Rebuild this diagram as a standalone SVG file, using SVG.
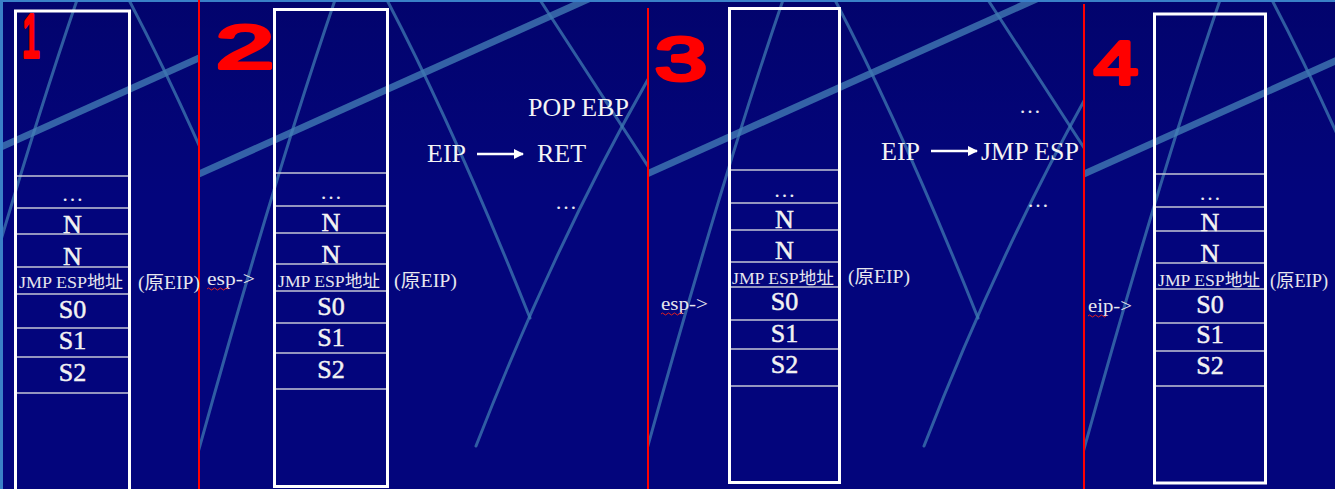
<svg xmlns="http://www.w3.org/2000/svg" xmlns:xlink="http://www.w3.org/1999/xlink" width="1335" height="489" viewBox="0 0 1335 489">
<defs>
<style>
.bg{fill:#03057c}
.ln{fill:none;stroke:#3f7ab2;stroke-width:3;stroke-linecap:round;opacity:0.75}
.band{fill:none;stroke:#4682b8;stroke-width:7;opacity:0.75}
.box{fill:none;stroke:#ffffff;stroke-width:3}
.row{stroke:#c4c6d6;stroke-width:1.6}
.sep{stroke:#ff0000;stroke-width:2}
.cell{font-family:"Liberation Serif","Noto Sans CJK SC",serif;fill:#f2f2f2;stroke:#f2f2f2;stroke-width:0.5;font-size:26px;text-anchor:middle}
.dots{font-family:"Liberation Serif",serif;fill:#e8e8f0;font-size:22px;text-anchor:middle}
.addr{font-family:"Liberation Serif","Noto Sans CJK SC",serif;fill:#e6e6ee;font-size:17px;text-anchor:middle}
.side{font-family:"Liberation Serif","Noto Sans CJK SC",serif;fill:#e6e6ee;font-size:18px}
.big{font-family:"Liberation Serif",serif;fill:#f4f4f4;font-size:26px}
.num{font-family:"Liberation Sans",sans-serif;fill:#ff0000;stroke:#ff0000;stroke-width:4;stroke-linejoin:round;font-size:62px}
.arrow{stroke:#ffffff;stroke-width:2.5;fill:none}
.squig{fill:none;stroke:#e02020;stroke-width:1}
</style>
<linearGradient id="shade" x1="0" y1="0" x2="0" y2="1">
<stop offset="0" stop-color="#000050" stop-opacity="0.35"/>
<stop offset="0.4" stop-color="#000050" stop-opacity="0"/>
</linearGradient>
<g id="slidebg">
<path class="ln" d="M135,0 Q70,190 -12,489"/>
<path class="band" d="M-70,205 L395,-4"/>
<path class="ln" d="M187,0 Q255,130 330,318"/>
<path class="ln" d="M340,0 L470,200"/>
<path class="ln" d="M462,55 Q360,230 276,446"/>
</g>
<clipPath id="c1"><rect x="0" y="0" width="199" height="489"/></clipPath>
<clipPath id="c2"><rect x="200" y="0" width="448" height="489"/></clipPath>
<clipPath id="c3"><rect x="648" y="0" width="436" height="489"/></clipPath>
<clipPath id="c4"><rect x="1085" y="0" width="250" height="489"/></clipPath>
<marker id="ah" markerWidth="10" markerHeight="10" refX="9" refY="5" orient="auto" markerUnits="userSpaceOnUse">
<path d="M0,0 L10,5 L0,10 Z" fill="#ffffff"/>
</marker>
</defs>

<g id="background">
<rect class="bg" x="0" y="0" width="1335" height="489"/>
<rect x="0" y="0" width="1335" height="489" fill="url(#shade)"/>
<g clip-path="url(#c1)"><use xlink:href="#slidebg" transform="translate(-58,0)"/></g>
<g clip-path="url(#c2)"><use xlink:href="#slidebg" transform="translate(200,0)"/></g>
<g clip-path="url(#c3)"><use xlink:href="#slidebg" transform="translate(648,0)"/></g>
<g clip-path="url(#c4)"><use xlink:href="#slidebg" transform="translate(1085,0)"/></g>
<rect x="0" y="0" width="1335" height="2" fill="#3a80c8"/>
<rect x="0" y="0" width="3" height="489" fill="#3a80c8"/>
<line class="sep" x1="199" y1="0" x2="199" y2="489"/>
<line class="sep" x1="648" y1="8" x2="648" y2="489"/>
<line class="sep" x1="1084" y1="4" x2="1084" y2="489"/>
</g>

<g id="stack1">
<rect class="box" x="15.5" y="11" width="114" height="490"/>
<line class="row" x1="17" y1="176" x2="128" y2="176"/>
<line class="row" x1="17" y1="208" x2="128" y2="208"/>
<line class="row" x1="17" y1="234" x2="128" y2="234"/>
<line class="row" x1="17" y1="267" x2="128" y2="267"/>
<line class="row" x1="17" y1="294" x2="128" y2="294"/>
<line class="row" x1="17" y1="328" x2="128" y2="328"/>
<line class="row" x1="17" y1="357" x2="128" y2="357"/>
<line class="row" x1="17" y1="393" x2="128" y2="393"/>
<text class="dots" x="72.5" y="201">…</text>
<text class="cell" x="72.5" y="233">N</text>
<text class="cell" x="72.5" y="265">N</text>
<text class="addr" x="71" y="288" textLength="104" lengthAdjust="spacingAndGlyphs">JMP ESP地址</text>
<text class="cell" x="72.5" y="318">S0</text>
<text class="cell" x="72.5" y="349">S1</text>
<text class="cell" x="72.5" y="381">S2</text>
<text class="side" x="138" y="289" textLength="62" lengthAdjust="spacingAndGlyphs">(原EIP)</text>
</g>

<g id="stack2">
<rect class="box" x="274.5" y="9.5" width="113" height="477"/>
<line class="row" x1="276" y1="173" x2="386" y2="173"/>
<line class="row" x1="276" y1="206" x2="386" y2="206"/>
<line class="row" x1="276" y1="233" x2="386" y2="233"/>
<line class="row" x1="276" y1="264" x2="386" y2="264"/>
<line class="row" x1="276" y1="291" x2="386" y2="291"/>
<line class="row" x1="276" y1="323" x2="386" y2="323"/>
<line class="row" x1="276" y1="353" x2="386" y2="353"/>
<line class="row" x1="276" y1="389" x2="386" y2="389"/>
<text class="dots" x="331" y="199">…</text>
<text class="cell" x="331" y="231">N</text>
<text class="cell" x="331" y="263">N</text>
<text class="addr" x="329" y="287" textLength="102" lengthAdjust="spacingAndGlyphs">JMP ESP地址</text>
<text class="cell" x="331" y="315">S0</text>
<text class="cell" x="331" y="346">S1</text>
<text class="cell" x="331" y="378">S2</text>
<text class="side" x="207" y="285" textLength="48" lengthAdjust="spacingAndGlyphs">esp-&gt;</text>
<path class="squig" d="M207,289 q1.5,-2 3,0 t3,0 t3,0 t3,0 t3,0 t3,0 t3,0"/>
<text class="side" x="394" y="287" textLength="63" lengthAdjust="spacingAndGlyphs">(原EIP)</text>
</g>

<g id="code2">
<text class="big" x="528" y="116">POP EBP</text>
<text class="big" x="427" y="162">EIP</text>
<text class="big" x="537" y="162">RET</text>
<text class="dots" x="566" y="209">…</text>
</g>

<g id="stack3">
<rect class="box" x="729.5" y="8.5" width="110" height="474"/>
<line class="row" x1="731" y1="170" x2="838" y2="170"/>
<line class="row" x1="731" y1="203" x2="838" y2="203"/>
<line class="row" x1="731" y1="230" x2="838" y2="230"/>
<line class="row" x1="731" y1="262" x2="838" y2="262"/>
<line class="row" x1="731" y1="287" x2="838" y2="287"/>
<line class="row" x1="731" y1="320" x2="838" y2="320"/>
<line class="row" x1="731" y1="349" x2="838" y2="349"/>
<line class="row" x1="731" y1="386" x2="838" y2="386"/>
<text class="dots" x="784.5" y="197">…</text>
<text class="cell" x="784.5" y="228">N</text>
<text class="cell" x="784.5" y="259">N</text>
<text class="addr" x="783" y="284" textLength="102" lengthAdjust="spacingAndGlyphs">JMP ESP地址</text>
<text class="cell" x="784.5" y="310">S0</text>
<text class="cell" x="784.5" y="342">S1</text>
<text class="cell" x="784.5" y="373">S2</text>
<text class="side" x="661" y="310" textLength="47" lengthAdjust="spacingAndGlyphs">esp-&gt;</text>
<path class="squig" d="M661,314 q1.5,-2 3,0 t3,0 t3,0 t3,0 t3,0 t3,0 t3,0"/>
<text class="side" x="848" y="283" textLength="62" lengthAdjust="spacingAndGlyphs">(原EIP)</text>
</g>

<g id="code3">
<text class="dots" x="1030" y="113">…</text>
<text class="big" x="881" y="160">EIP</text>
<text class="big" x="981" y="160">JMP ESP</text>
<text class="dots" x="1038" y="207">…</text>
</g>

<g id="stack4">
<rect class="box" x="1154.5" y="14" width="111" height="469"/>
<line class="row" x1="1156" y1="174" x2="1264" y2="174"/>
<line class="row" x1="1156" y1="207" x2="1264" y2="207"/>
<line class="row" x1="1156" y1="231" x2="1264" y2="231"/>
<line class="row" x1="1156" y1="263" x2="1264" y2="263"/>
<line class="row" x1="1156" y1="289" x2="1264" y2="289"/>
<line class="row" x1="1156" y1="323" x2="1264" y2="323"/>
<line class="row" x1="1156" y1="351" x2="1264" y2="351"/>
<line class="row" x1="1156" y1="386" x2="1264" y2="386"/>
<text class="dots" x="1210" y="200">…</text>
<text class="cell" x="1210" y="231">N</text>
<text class="cell" x="1210" y="262">N</text>
<text class="addr" x="1209" y="286" textLength="102" lengthAdjust="spacingAndGlyphs">JMP ESP地址</text>
<text class="cell" x="1210" y="313">S0</text>
<text class="cell" x="1210" y="343">S1</text>
<text class="cell" x="1210" y="374">S2</text>
<text class="side" x="1088" y="312" textLength="44" lengthAdjust="spacingAndGlyphs">eip-&gt;</text>
<path class="squig" d="M1088,316 q1.5,-2 3,0 t3,0 t3,0 t3,0 t3,0 t3,0"/>
<text class="side" x="1270" y="287" textLength="58" lengthAdjust="spacingAndGlyphs">(原EIP)</text>
</g>

<g id="connectors">
<line class="arrow" x1="477" y1="154" x2="523" y2="154" marker-end="url(#ah)"/>
<line class="arrow" x1="931" y1="151" x2="977" y2="151" marker-end="url(#ah)"/>
</g>

<g id="labels">
<text class="num" x="22" y="57" textLength="18" lengthAdjust="spacingAndGlyphs">1</text>
<text class="num" x="216" y="68" textLength="58" lengthAdjust="spacingAndGlyphs">2</text>
<text class="num" x="655" y="80" textLength="52" lengthAdjust="spacingAndGlyphs" font-size="70">3</text>
<text class="num" x="1094" y="84" textLength="44" lengthAdjust="spacingAndGlyphs" font-size="74">4</text>
</g>
</svg>
